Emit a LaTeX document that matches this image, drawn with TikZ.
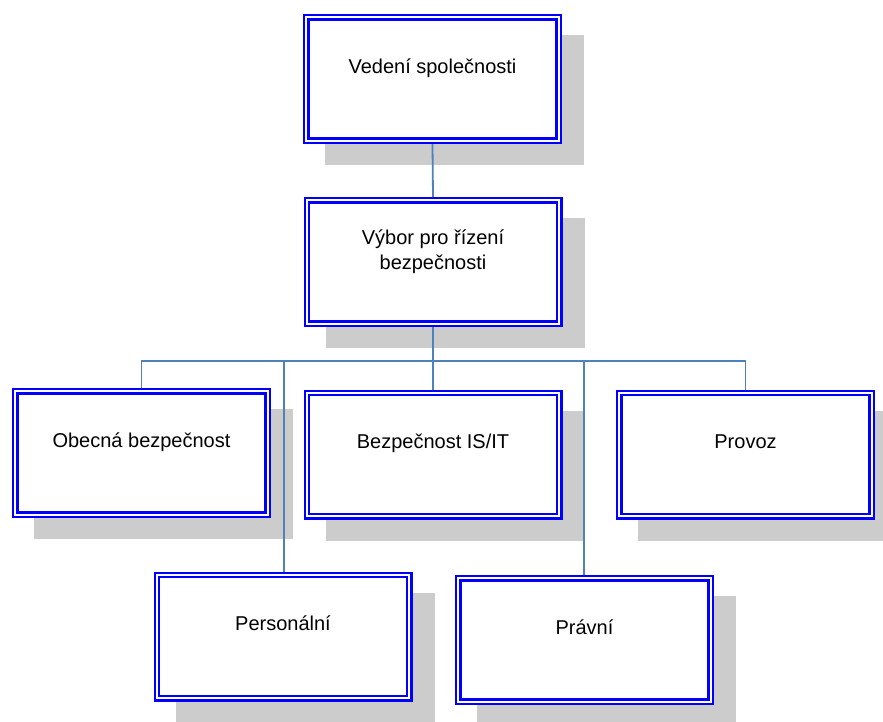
\documentclass[tikz,border=0pt]{standalone}
\usepackage{fontspec}
\setmainfont{Liberation Sans}
\usetikzlibrary{calc,backgrounds}
\definecolor{boxblue}{RGB}{0,0,255}
\definecolor{connblue}{RGB}{79,129,189}
\definecolor{shadowc}{RGB}{204,204,204}
\tikzset{
  orgbox/.style={draw=boxblue, line width=2.2pt, double=white, double distance=2.2pt,
    fill=white, minimum width=252.4pt, minimum height=123.4pt, inner sep=0pt,
    outer sep=3.3pt, align=center, font=\fontsize{20}{25}\selectfont,
    text height=15pt, text depth=26.6pt},
  twoline/.style={text depth=1pt},
  conn/.style={draw=connblue, line width=1.8pt},
  mainconn/.style={draw=connblue, line width=2.6pt},
  shadowbox/.style={fill=shadowc}
}
\newcommand{\boxshadow}[1]{\fill[shadowbox] ($(#1.north west)+(22,21)$) rectangle ($(#1.south east)+(22,21)$);}
\begin{document}
\begin{tikzpicture}[x=1pt,y=-1pt]
\useasboundingbox (0,0) rectangle (883,721);

\node[orgbox] (ved) at (432.5,79) {Vedení společnosti};
\node[orgbox,twoline] (vyb) at (433,262) {Výbor pro řízení\\bezpečnosti};
\node[orgbox] (obe) at (141.5,453) {Obecná bezpečnost};
\node[orgbox] (isit) at (433,454.5) {Bezpečnost IS/IT};
\node[orgbox] (pro) at (745.5,454.5) {Provoz};
\node[orgbox] (per) at (283,636.5) {Personální};
\node[orgbox] (pra) at (584.5,640) {Právní};

\begin{scope}[on background layer]
\fill[white] (0,0) rectangle (883,721);
\boxshadow{ved}
\boxshadow{vyb}
\boxshadow{obe}
\boxshadow{isit}
\boxshadow{pro}
\boxshadow{per}
\boxshadow{pra}
\end{scope}

\coordinate (bj) at (433,361);
\coordinate (t1) at (284,361);
\coordinate (t2) at (584,361);

\draw[conn] (ved.south) -- (vyb.north);
\draw[mainconn] (vyb.south) -- (bj);
\draw[conn] (obe.north) |- (bj) -| (pro.north);
\draw[conn] (bj) -- (isit.north);
\draw[conn] (t1) -- (t1 |- per.north);
\draw[conn] (t2) -- (t2 |- pra.north);
\end{tikzpicture}
\end{document}
